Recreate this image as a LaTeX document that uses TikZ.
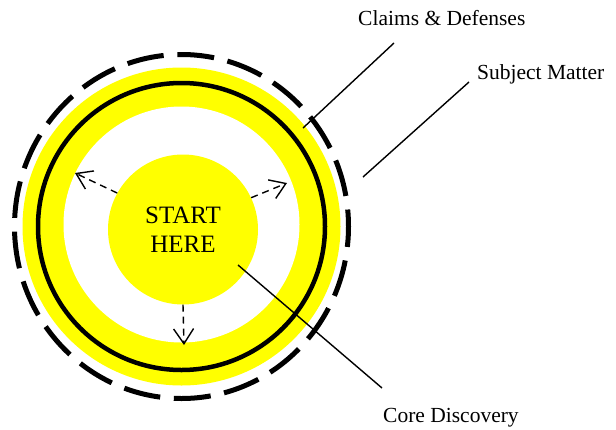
\documentclass[tikz,border=0pt]{standalone}
\usepackage{fontspec}
\setmainfont{Liberation Serif}
\usetikzlibrary{arrows.meta}
\definecolor{sun}{RGB}{255,255,0}
\tikzset{
	core/.style     = {circle, fill=sun, minimum size=150pt,
		inner sep=0pt, align=center,
		font=\fontsize{25}{29}\selectfont},
	tag/.style      = {anchor=base west, inner sep=0pt,
		font=\fontsize{21.5}{26}\selectfont},
	spread/.style   = {line width=1.4pt, dash pattern=on 7pt off 5pt,
		-{Straight Barb[length=15pt,width=20pt,line width=1.4pt]}},
	pointer/.style  = {line width=1.4pt},
	ring/.style     = {line width=4.5pt},
	boundary/.style = {line width=5pt, dash pattern=on 37pt off 13.7pt, dash phase=20pt}
}

\begin{document}
\begin{tikzpicture}[x=1pt,y=-1pt]
	\useasboundingbox (0,0) rectangle (616,429);
	\coordinate (hub) at (181.5,226.5);
	% rings
	\fill[sun] (hub) circle[radius=159pt];
	\fill[white] (181.5,224.5) circle[radius=118pt];
	\draw[ring] (hub) circle[radius=143.5pt];
	\draw[boundary] (hub) ellipse[x radius=167pt, y radius=172pt];

	\node (start) [core] at (183,229.5) {START\\HERE};

	% spreading out
	\coordinate (west)  at (75,173);
	\coordinate (east)  at (287,183);
	\coordinate (south) at (184,345);
	\draw[spread] (start.151) -- (west);
	\draw[spread] (start.25)  -- (east);
	\draw[spread] (start.-90) -- (south);

	% labels
	\node (claims)  [tag] at (358,25)  {Claims \& Defenses};
	\node (subject) [tag] at (477,79)  {Subject Matter};
	\node (core)    [tag] at (383,422) {Core Discovery};

	\coordinate (claims top)  at (394,43);
	\coordinate (claims end)  at (303,128);
	\coordinate (subject top) at (469,82);
	\coordinate (subject end) at (363,177);
	\coordinate (core in)     at (238,265);
	\coordinate (core top)    at (382,388);
	\draw[pointer] (claims top)  -- (claims end);
	\draw[pointer] (subject top) -- (subject end);
	\draw[pointer] (core in)     -- (core top);
\end{tikzpicture}
\end{document}
